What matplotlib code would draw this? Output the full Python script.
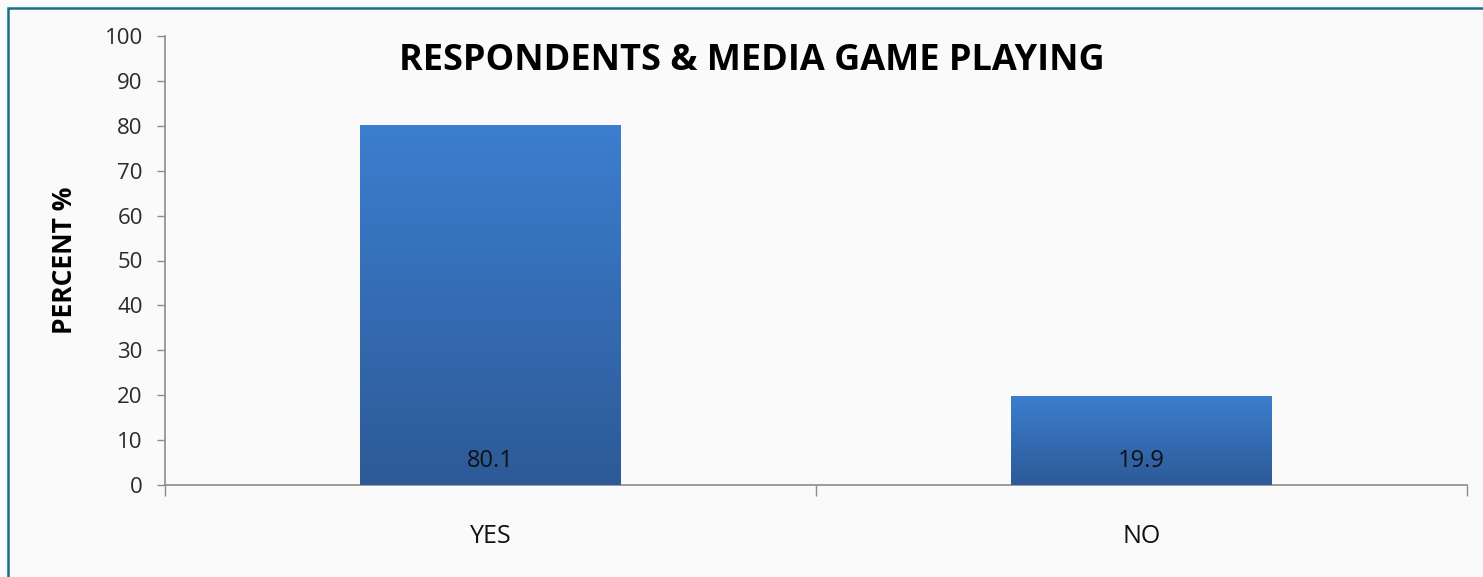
import numpy as np
import matplotlib
matplotlib.use("Agg")
import matplotlib.pyplot as plt
from matplotlib.patches import Rectangle
from matplotlib.colors import LinearSegmentedColormap

# Survey answers: do respondents play media games?
categories = ["YES", "NO"]
percents = [80.1, 19.9]
y_ticks = [0, 10, 20, 30, 40, 50, 60, 70, 80, 90, 100]

plt.rcParams["font.family"] = ["Open Sans", "DejaVu Sans"]

W, H = 1483, 577
fig = plt.figure(figsize=(W / 100, H / 100), dpi=100)
fig.patch.set_facecolor("#fafafa")

# outer frame of the chart area
fig.add_artist(Rectangle((8 / W, -0.05), 1.2, (H - 8) / H + 0.05,
                         transform=fig.transFigure, fill=False,
                         edgecolor="#1b6e8c", linewidth=1.8))

ax = fig.add_axes([165 / W, 1 - 485 / H, (1467 - 165) / W, (485 - 36) / H])
ax.set_facecolor("none")

x = np.arange(len(categories))
bars = ax.bar(x, percents, width=0.4, color="#3570b8", zorder=2)

# vertical blue gradient on each bar
grad_cmap = LinearSegmentedColormap.from_list("bar_grad", ["#2d5a97", "#3c7ecf"])
grad = np.linspace(0, 1, 256).reshape(-1, 1)
for b in bars:
    x0, w, h = b.get_x(), b.get_width(), b.get_height()
    im = ax.imshow(grad, cmap=grad_cmap, origin="lower", aspect="auto",
                   extent=(x0, x0 + w, 0, h), zorder=3)
    im.set_clip_path(b)

for xi, v in zip(x, percents):
    ax.annotate(f"{v}", xy=(xi, 0), xytext=(0, 17), textcoords="offset points",
                ha="center", va="center", fontsize=17, color="#111111", zorder=4)

ax.set_xlim(-0.5, len(categories) - 0.5)
ax.set_ylim(0, 100)
ax.set_yticks(y_ticks)
ax.tick_params(axis="y", direction="out", length=6, width=1, color="#8c8c8c",
               labelsize=16, labelcolor="#2a2a2a", pad=10)

# category labels sit between boundary ticks
ax.set_xticks([-0.5, 0.5, 1.5])
ax.set_xticklabels([])
ax.tick_params(axis="x", direction="out", length=8, width=1, color="#8c8c8c")
ax.set_xticks(x, minor=True)
ax.set_xticklabels(categories, minor=True)
ax.tick_params(axis="x", which="minor", length=0, labelsize=18,
               labelcolor="#111111", pad=28)

for side in ("top", "right"):
    ax.spines[side].set_visible(False)
for side in ("left", "bottom"):
    ax.spines[side].set_color("#8c8c8c")
    ax.spines[side].set_linewidth(1.2)
ax.set_xlim(-0.5, 1.5)

fig.text(752 / W, 1 - 61 / H, "RESPONDENTS & MEDIA GAME PLAYING",
         ha="center", va="center", fontsize=26, fontweight="bold", color="#000000")
fig.text(65 / W, 1 - 260 / H, "PERCENT %", rotation=90, ha="center",
         va="center", fontsize=19, fontweight="bold", color="#000000")

fig.savefig("out.png", dpi=100, facecolor=fig.get_facecolor())
